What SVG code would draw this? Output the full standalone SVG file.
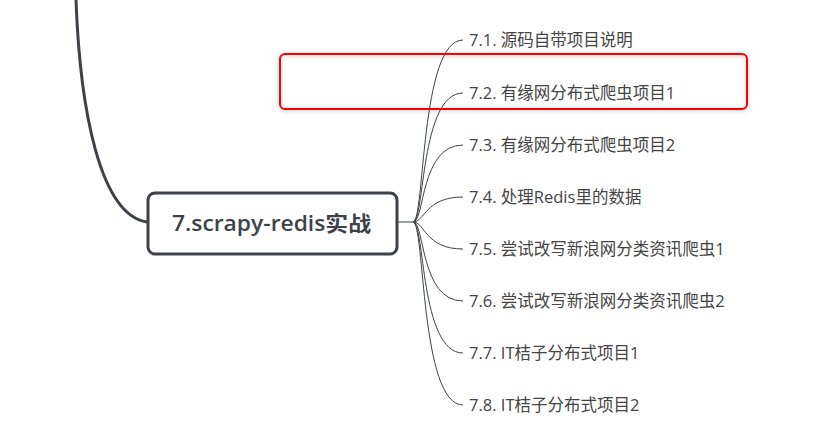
<svg xmlns="http://www.w3.org/2000/svg" width="826" height="448" viewBox="0 0 826 448">
<style>
.c{fill:none;stroke:#3d4249;stroke-width:1}
.t{font-family:"Open Sans","Noto Sans CJK SC",sans-serif;font-size:16.5px;fill:#444}
</style>
<defs><filter id="sh" x="-5%" y="-20%" width="110%" height="140%"><feDropShadow dx="0" dy="1" stdDeviation="2" flood-color="#000" flood-opacity="0.25"/></filter></defs>
<rect width="826" height="448" fill="#fff"/>
<g id="connectors">
<path d="M76,0 C80,110 100,215 147,222" fill="none" stroke="#3d4249" stroke-width="3"/>
<path class="c" d="M397,222 H413"/>
<path class="c" d="M413,222 C425,222 420,40 463,40"/>
<path class="c" d="M413,222 C425,222 420,93 463,93"/>
<path class="c" d="M413,222 C425,222 420,145 463,145"/>
<path class="c" d="M413,222 C425,222 425,197 463,197"/>
<path class="c" d="M413,222 C425,222 425,249 463,249"/>
<path class="c" d="M413,222 C425,222 420,301 463,301"/>
<path class="c" d="M413,222 C425,222 420,353 463,353"/>
<path class="c" d="M413,222 C425,222 420,405 463,405"/>
</g>
<g id="root"><rect x="148" y="193" width="249" height="61" rx="7" fill="#fff" stroke="#3d4249" stroke-width="3"/>
<text x="172" y="231" textLength="199" lengthAdjust="spacingAndGlyphs" font-family="'Open Sans','Noto Sans CJK SC',sans-serif" font-size="21" font-weight="600" fill="#3d4249">7.scrapy-redis实战</text></g>
<g id="n1"><text class="t" x="469" y="46">7.1. 源码自带项目说明</text></g>
<g id="n2"><text class="t" x="469" y="99">7.2. 有缘网分布式爬虫项目1</text></g>
<g id="n3"><text class="t" x="469" y="151">7.3. 有缘网分布式爬虫项目2</text></g>
<g id="n4"><text class="t" x="469" y="203">7.4. 处理Redis里的数据</text></g>
<g id="n5"><text class="t" x="469" y="255">7.5. 尝试改写新浪网分类资讯爬虫1</text></g>
<g id="n6"><text class="t" x="469" y="307">7.6. 尝试改写新浪网分类资讯爬虫2</text></g>
<g id="n7"><text class="t" x="469" y="359">7.7. IT桔子分布式项目1</text></g>
<g id="n8"><text class="t" x="469" y="411">7.8. IT桔子分布式项目2</text></g>
<g id="highlight"><rect x="280" y="54" width="467" height="55" rx="5" fill="none" stroke="#f00" stroke-width="2" filter="url(#sh)"/></g>
</svg>
